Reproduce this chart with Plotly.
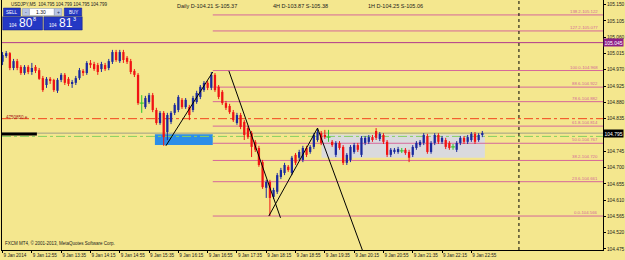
import plotly.graph_objects as go

# ---------------- data (USDJPY M5, 9 Jan 2014 12:15 .. 23:10) ----------------
bar_index = list(range(132))
opens = [104.992, 105.008, 105.016, 104.975, 104.994, 104.978, 104.961, 104.978, 104.964, 104.978,
         104.969, 104.947, 104.928, 104.945, 104.942, 104.912, 104.942, 104.956, 104.945, 104.931,
         104.934, 104.947, 104.967, 104.961, 104.989, 104.986, 104.983, 104.972, 104.983, 104.975,
         104.992, 105.019, 104.994, 105.019, 105.003, 104.994, 104.967, 104.956, 104.878, 104.867,
         104.881, 104.900, 104.859, 104.823, 104.851, 104.798, 104.826, 104.851, 104.859, 104.887,
         104.867, 104.867, 104.859, 104.881, 104.895, 104.914, 104.934, 104.920, 104.956, 104.923,
         104.909, 104.878, 104.870, 104.853, 104.823, 104.845, 104.826, 104.809, 104.795, 104.771,
         104.754, 104.715, 104.644, 104.660, 104.619, 104.633, 104.674, 104.685, 104.702, 104.685,
         104.735, 104.727, 104.721, 104.754, 104.743, 104.757, 104.776, 104.795, 104.790, 104.784,
         104.771, 104.735, 104.768, 104.757, 104.713, 104.721, 104.743, 104.762, 104.735, 104.768,
         104.771, 104.784, 104.801, 104.779, 104.790, 104.771, 104.735, 104.743, 104.743, 104.746,
         104.749, 104.743, 104.735, 104.754, 104.762, 104.768, 104.787, 104.743, 104.768, 104.790,
         104.771, 104.776, 104.768, 104.757, 104.749, 104.768, 104.782, 104.771, 104.776, 104.793,
         104.776, 104.790]
highs = [105.019, 105.022, 105.019, 105.000, 105.000, 104.983, 104.983, 104.983, 104.989, 104.983,
         104.975, 104.953, 104.950, 104.950, 104.945, 104.947, 104.961, 104.961, 104.950, 104.942,
         104.953, 104.975, 104.972, 104.994, 104.997, 104.992, 104.989, 104.992, 104.989, 105.000,
         105.025, 105.025, 105.025, 105.025, 105.008, 105.000, 104.972, 104.961, 104.900, 104.898,
         104.906, 104.906, 104.865, 104.856, 104.856, 104.851, 104.856, 104.878, 104.900, 104.892,
         104.892, 104.873, 104.898, 104.912, 104.928, 104.939, 104.939, 104.964, 104.961, 104.928,
         104.914, 104.884, 104.876, 104.859, 104.851, 104.851, 104.831, 104.815, 104.801, 104.776,
         104.760, 104.721, 104.666, 104.666, 104.644, 104.685, 104.699, 104.713, 104.707, 104.732,
         104.740, 104.749, 104.760, 104.760, 104.762, 104.795, 104.809, 104.801, 104.804, 104.804,
         104.776, 104.773, 104.773, 104.762, 104.740, 104.762, 104.768, 104.768, 104.787, 104.787,
         104.790, 104.790, 104.809, 104.798, 104.795, 104.776, 104.754, 104.754, 104.757, 104.754,
         104.754, 104.749, 104.762, 104.773, 104.776, 104.795, 104.793, 104.773, 104.795, 104.795,
         104.787, 104.782, 104.773, 104.765, 104.773, 104.787, 104.787, 104.790, 104.798, 104.798,
         104.795, 104.801]
lows = [104.983, 105.003, 104.969, 104.969, 104.969, 104.956, 104.956, 104.958, 104.956, 104.961,
        104.942, 104.909, 104.920, 104.931, 104.909, 104.906, 104.936, 104.928, 104.925, 104.920,
        104.928, 104.942, 104.953, 104.956, 104.975, 104.967, 104.956, 104.964, 104.967, 104.969,
        104.986, 104.992, 104.989, 104.989, 104.986, 104.958, 104.950, 104.873, 104.851, 104.862,
        104.876, 104.853, 104.818, 104.818, 104.760, 104.776, 104.820, 104.845, 104.853, 104.862,
        104.862, 104.831, 104.853, 104.876, 104.889, 104.909, 104.914, 104.914, 104.909, 104.889,
        104.873, 104.859, 104.848, 104.826, 104.818, 104.806, 104.776, 104.779, 104.729, 104.743,
        104.702, 104.641, 104.616, 104.566, 104.613, 104.627, 104.668, 104.679, 104.688, 104.679,
        104.707, 104.721, 104.715, 104.729, 104.738, 104.751, 104.771, 104.762, 104.779, 104.771,
        104.757, 104.729, 104.749, 104.707, 104.707, 104.715, 104.738, 104.743, 104.729, 104.762,
        104.765, 104.771, 104.776, 104.773, 104.765, 104.729, 104.729, 104.738, 104.738, 104.740,
        104.735, 104.715, 104.729, 104.749, 104.757, 104.762, 104.738, 104.738, 104.762, 104.765,
        104.765, 104.751, 104.749, 104.749, 104.743, 104.762, 104.765, 104.765, 104.771, 104.765,
        104.771, 104.784]
closes = [105.011, 105.016, 104.975, 104.994, 104.975, 104.961, 104.978, 104.964, 104.975, 104.967,
          104.945, 104.914, 104.945, 104.939, 104.914, 104.942, 104.956, 104.934, 104.931, 104.936,
          104.947, 104.969, 104.961, 104.989, 104.983, 104.972, 104.964, 104.986, 104.972, 104.994,
          105.019, 104.997, 105.019, 104.997, 104.992, 104.964, 104.956, 104.878, 104.878, 104.892,
          104.900, 104.859, 104.823, 104.851, 104.784, 104.845, 104.851, 104.873, 104.895, 104.867,
          104.887, 104.845, 104.892, 104.906, 104.923, 104.934, 104.920, 104.956, 104.914, 104.895,
          104.878, 104.865, 104.853, 104.831, 104.845, 104.812, 104.790, 104.784, 104.757, 104.749,
          104.707, 104.646, 104.660, 104.616, 104.638, 104.679, 104.693, 104.707, 104.693, 104.727,
          104.713, 104.743, 104.754, 104.735, 104.757, 104.790, 104.798, 104.768, 104.784, 104.784,
          104.762, 104.768, 104.754, 104.713, 104.735, 104.757, 104.762, 104.749, 104.782, 104.782,
          104.784, 104.776, 104.782, 104.793, 104.771, 104.735, 104.749, 104.749, 104.751, 104.746,
          104.740, 104.727, 104.757, 104.768, 104.771, 104.790, 104.743, 104.768, 104.790, 104.771,
          104.782, 104.757, 104.754, 104.757, 104.768, 104.782, 104.771, 104.784, 104.793, 104.771,
          104.790, 104.795]

x_tick_index = [0, 8, 16, 24, 32, 40, 48, 56, 64, 72, 80, 88, 96, 104, 112, 120, 128]
x_tick_labels = ["9 Jan 2014", "9 Jan 12:55", "9 Jan 13:35", "9 Jan 14:15", "9 Jan 14:55",
                 "9 Jan 15:35", "9 Jan 16:15", "9 Jan 16:55", "9 Jan 17:35", "9 Jan 18:15",
                 "9 Jan 18:55", "9 Jan 19:35", "9 Jan 20:15", "9 Jan 20:55", "9 Jan 21:35",
                 "9 Jan 22:15", "9 Jan 22:55"]
# 104.790 sits under the bid-price box in the reference, so it is not listed
y_tick_values = [104.475, 104.520, 104.565, 104.610, 104.655, 104.700, 104.745,
                 104.835, 104.880, 104.925, 104.970, 105.015, 105.060, 105.105, 105.150]
y_tick_labels = ["104.475", "104.520", "104.565", "104.610", "104.655", "104.700", "104.745",
                 "104.835", "104.880", "104.925", "104.970", "105.015", "105.060", "105.105", "105.150"]

fib_levels = [0.0, 23.6, 38.2, 50.0, 61.8, 78.6, 88.6, 100.0, 127.2, 138.2]
fib_low = 104.566
fib_high = 104.968
fib_start_bar = 57.4

purple_level = 105.045
red_level = 104.835
green_level = 104.786
bid_price = 104.795
red_level_name = "4750850 e"

trend_x = [[44.6, 57.4], [61.8, 75.9], [72.7, 86.0], [86.0, 98.5]]
trend_y = [[104.760, 104.964], [104.967, 104.561], [104.566, 104.809], [104.809, 104.465]]

blue_zone_x = [41.6, 57.4]
blue_zone_y = [104.762, 104.792]
gray_zone_x = [87.1, 131.7]
gray_zone_y = [104.727, 104.791]
day_separator_bar = 141

header_texts = ["Daily D-104.21 S-105.37", "4H D-103.87 S-105.38", "1H D-104.25 S-105.06"]
symbol_text = "USDJPY,M5  104.795 104.799 104.795 104.799"
copyright_text = "FXCM MT4, \u00a9 2001-2013, MetaQuotes Software Corp."
lot_size = "1.30"
sell_price = ("104", "80", "8")
buy_price = ("104", "81", "3")

# ---------------- styling ----------------
BG = "#F4E78E"
UP = "#1B2A9E"
DOWN = "#F01414"
DOJI = "#2BC42B"
FIB = "#D5679A"
FONT = "Liberation Sans"
W, H = 625, 260
ML, MR, MT, MB = 2, 20, 0, 10


def pxx(p):
    return (p - ML) / (W - ML - MR)


def pxy(p):
    return (H - MB - p) / (H - MT - MB)


fig = go.Figure()

# candles: bodies + wicks per colour
groups = {"up": ([], UP), "down": ([], DOWN), "doji": ([], DOJI)}
for i, o, h, l, c in zip(bar_index, opens, highs, lows, closes):
    key = "up" if c > o else ("down" if c < o else "doji")
    groups[key][0].append((i, o, h, l, c))

for key, (rows, col) in groups.items():
    wx, wy = [], []
    for i, o, h, l, c in rows:
        wx += [i, i, None]
        wy += [l, h, None]
    fig.add_trace(go.Scatter(x=wx, y=wy, mode="lines", line=dict(color=col, width=1),
                             hoverinfo="skip", showlegend=False))
    if key == "doji":
        fig.add_trace(go.Scatter(x=[r[0] for r in rows], y=[r[1] for r in rows], mode="markers",
                                 marker=dict(symbol="line-ew", size=3, line=dict(color=col, width=1)),
                                 hoverinfo="skip", showlegend=False))
    else:
        fig.add_trace(go.Bar(x=[r[0] for r in rows],
                             y=[abs(r[4] - r[1]) for r in rows],
                             base=[min(r[1], r[4]) for r in rows],
                             width=0.62, marker=dict(color=col, line=dict(width=0)),
                             hoverinfo="skip", showlegend=False))

# trend lines
for tx, ty in zip(trend_x, trend_y):
    fig.add_trace(go.Scatter(x=tx, y=ty, mode="lines", line=dict(color="black", width=1),
                             hoverinfo="skip", showlegend=False))

shapes = []
# zones
shapes.append(dict(type="rect", xref="x", yref="y", x0=gray_zone_x[0], x1=gray_zone_x[1],
                   y0=gray_zone_y[0], y1=gray_zone_y[1], fillcolor="#DADADE",
                   line=dict(width=0), layer="below"))
shapes.append(dict(type="rect", xref="x", yref="y", x0=blue_zone_x[0], x1=blue_zone_x[1],
                   y0=blue_zone_y[0], y1=blue_zone_y[1], fillcolor="#2C8EE8",
                   line=dict(width=0), layer="below"))

XMIN, XMAX = -0.15, 163.95
# horizontal levels
shapes.append(dict(type="line", xref="x", yref="y", x0=XMIN, x1=XMAX, y0=purple_level, y1=purple_level,
                   line=dict(color="#B03A8C", width=1), layer="below"))
shapes.append(dict(type="line", xref="x", yref="y", x0=XMIN, x1=XMAX, y0=red_level, y1=red_level,
                   line=dict(color="#F2461E", width=1, dash="dashdot"), layer="below"))
shapes.append(dict(type="line", xref="x", yref="y", x0=XMIN, x1=XMAX, y0=bid_price, y1=bid_price,
                   line=dict(color="#A09E86", width=1), layer="below"))
shapes.append(dict(type="line", xref="x", yref="y", x0=XMIN, x1=XMAX, y0=green_level, y1=green_level,
                   line=dict(color="#86D060", width=1, dash="dashdot"), layer="below"))

annotations = []
fib_range = fib_high - fib_low
for lv in fib_levels:
    price = fib_low + fib_range * lv / 100.0
    shapes.append(dict(type="line", xref="x", yref="y", x0=fib_start_bar, x1=XMAX, y0=price, y1=price,
                       line=dict(color=FIB, width=1), layer="below"))
    annotations.append(dict(xref="paper", yref="y", x=1, y=price, xanchor="right", yanchor="bottom",
                            xshift=-3, yshift=-1, text="%.1f-%.3f" % (lv, price), showarrow=False,
                            font=dict(family=FONT, size=4.3, color=FIB)))

# day separator
shapes.append(dict(type="line", xref="x", yref="paper", x0=day_separator_bar, x1=day_separator_bar,
                   y0=0, y1=1, line=dict(color="black", width=1, dash="dot")))

# black object label at left
shapes.append(dict(type="rect", xref="paper", yref="paper", x0=pxx(1), x1=pxx(37),
                   y0=pxy(135.5), y1=pxy(132.5), fillcolor="black", line=dict(width=0)))
annotations.append(dict(xref="paper", yref="y", x=pxx(4), y=red_level, xanchor="left", yanchor="middle",
                        text=red_level_name, showarrow=False, yshift=1,
                        font=dict(family=FONT, size=4.5, color="#A01818")))

# price boxes on the axis
annotations.append(dict(xref="paper", yref="y", x=1, y=purple_level, xanchor="left", yanchor="middle",
                        text="%.3f" % purple_level, showarrow=False, bgcolor="#8E1F88", borderpad=0.5,
                        font=dict(family=FONT, size=5, color="white")))
annotations.append(dict(xref="paper", yref="y", x=1, y=bid_price, xanchor="left", yanchor="middle",
                        text="%.3f" % bid_price, showarrow=False, bgcolor="black", borderpad=0.5,
                        font=dict(family=FONT, size=5, color="white")))

# header texts
for t, xp in zip(header_texts, [176, 272, 367]):
    annotations.append(dict(xref="paper", yref="paper", x=pxx(xp), y=pxy(6), xanchor="left",
                            yanchor="middle", text=t, showarrow=False,
                            font=dict(family=FONT, size=5.5, color="#1A1A1A")))
annotations.append(dict(xref="paper", yref="paper", x=pxx(9), y=pxy(4.5), xanchor="left",
                        yanchor="middle", text=symbol_text, showarrow=False,
                        font=dict(family=FONT, size=4.5, color="#1A1A1A")))
annotations.append(dict(xref="paper", yref="paper", x=pxx(3), y=pxy(243), xanchor="left",
                        yanchor="middle", text=copyright_text, showarrow=False,
                        font=dict(family=FONT, size=4.5, color="#1A1A1A")))

# one-click trading panel
PANEL = "#2438C4"
PANEL_EDGE = "#0E1A86"
shapes.append(dict(type="rect", xref="paper", yref="paper", x0=pxx(3.5), x1=pxx(20.5), y0=pxy(16), y1=pxy(8),
                   fillcolor=PANEL, line=dict(color=PANEL_EDGE, width=0.5)))
shapes.append(dict(type="rect", xref="paper", yref="paper", x0=pxx(64.5), x1=pxx(82), y0=pxy(16), y1=pxy(8),
                   fillcolor=PANEL, line=dict(color=PANEL_EDGE, width=0.5)))
shapes.append(dict(type="rect", xref="paper", yref="paper", x0=pxx(22.5), x1=pxx(29.5), y0=pxy(15.5), y1=pxy(8.5),
                   fillcolor="#B8C4E4", line=dict(color="#8090B8", width=0.5)))
shapes.append(dict(type="rect", xref="paper", yref="paper", x0=pxx(29.5), x1=pxx(54.5), y0=pxy(15.5), y1=pxy(8.5),
                   fillcolor="white", line=dict(color="#8090B8", width=0.5)))
shapes.append(dict(type="rect", xref="paper", yref="paper", x0=pxx(54.5), x1=pxx(62), y0=pxy(15.5), y1=pxy(8.5),
                   fillcolor="#B8C4E4", line=dict(color="#8090B8", width=0.5)))
shapes.append(dict(type="rect", xref="paper", yref="paper", x0=pxx(2.7), x1=pxx(42.7), y0=pxy(30), y1=pxy(16.7),
                   fillcolor=PANEL, line=dict(color=PANEL_EDGE, width=0.5)))
shapes.append(dict(type="rect", xref="paper", yref="paper", x0=pxx(44), x1=pxx(82.5), y0=pxy(30), y1=pxy(16.7),
                   fillcolor=PANEL, line=dict(color=PANEL_EDGE, width=0.5)))


def ptext(t, xp, yp, size, color="white", anchor="center"):
    annotations.append(dict(xref="paper", yref="paper", x=pxx(xp), y=pxy(yp), xanchor=anchor,
                            yanchor="middle", text=t, showarrow=False,
                            font=dict(family=FONT, size=size, color=color)))


ptext("SELL", 12, 12.2, 4.5)
ptext("BUY", 73.3, 12.2, 4.5)
ptext("-", 26, 12, 5, "#203060")
ptext("+", 58.3, 12, 5, "#203060")
ptext(lot_size, 41, 12.2, 5, "#101010")
ptext(sell_price[0], 13.5, 25.5, 4.5)
ptext(sell_price[1], 26, 23.5, 12)
ptext(sell_price[2], 35, 19.5, 5.5)
ptext(buy_price[0], 53.5, 25.5, 4.5)
ptext(buy_price[1], 66.5, 23.5, 12)
ptext(buy_price[2], 75, 19.5, 5.5)

fig.update_layout(
    width=W, height=H, margin=dict(l=ML, r=MR, t=MT, b=MB),
    paper_bgcolor=BG, plot_bgcolor=BG, barmode="overlay", showlegend=False,
    shapes=shapes, annotations=annotations, hovermode=False,
    xaxis=dict(range=[XMIN, XMAX], showgrid=False, zeroline=False, showline=True, linecolor="black",
               linewidth=1, tickvals=x_tick_index, ticktext=x_tick_labels, ticks="outside",
               ticklen=2, tickcolor="black", ticklabelposition="outside right", tickangle=0,
               tickfont=dict(family=FONT, size=4.6, color="#1A1A1A")),
    yaxis=dict(range=[104.4722, 105.1628], side="right", showgrid=False, zeroline=False,
               showline=True, mirror=True, linecolor="black", linewidth=1,
               tickvals=y_tick_values, ticktext=y_tick_labels, ticks="outside", ticklen=2,
               tickcolor="black", tickfont=dict(family=FONT, size=4.8, color="#1A1A1A")),
)

fig.write_html("out.html")
